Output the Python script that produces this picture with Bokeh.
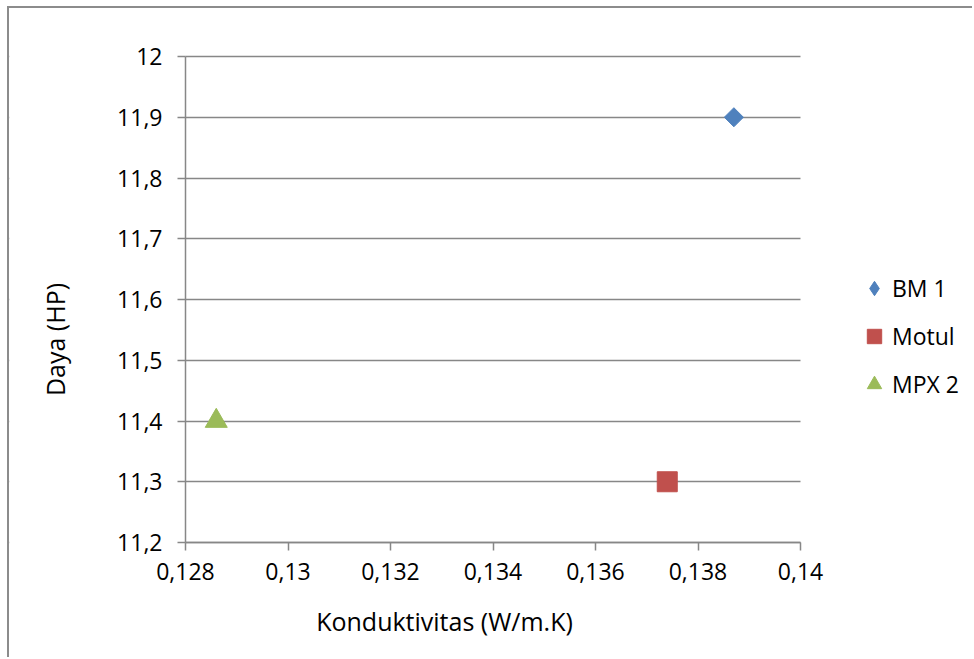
import math
from bokeh.plotting import figure
from bokeh.models import (FixedTicker, CustomJSTickFormatter, Legend, LegendItem,
                          BoxAnnotation, Label, Range1d)
from bokeh.embed import file_html
from bokeh.resources import INLINE

# ---- data ----
series_names = ["BM 1", "Motul", "MPX 2"]
conductivity = [0.1387, 0.1374, 0.1286]
power_hp = [11.9, 11.3, 11.4]
colors = ["#4F81BD", "#C0504D", "#9BBB59"]
x_ticks = [0.128, 0.130, 0.132, 0.134, 0.136, 0.138, 0.140]
y_ticks = [11.2, 11.3, 11.4, 11.5, 11.6, 11.7, 11.8, 11.9, 12.0]
x_title = "Konduktivitas (W/m.K)"
y_title = "Daya (HP)"

FONT = "Open Sans"
GRAY = "#878787"

# ---- layout (page pixels) ----
CANVAS_X0, CANVAS_Y0 = 9, 8          # canvas offset (after css margin + border)
CW, CH = 974 - CANVAS_X0, 659 - CANVAS_Y0
PX_L, PX_R, PX_T, PX_B = 185, 800, 56, 542   # plot area in page pixels

kx = (x_ticks[-1] - x_ticks[0]) / (PX_R - PX_L)
ky = (y_ticks[-1] - y_ticks[0]) / (PX_B - PX_T)


def px2x(px):
    return x_ticks[0] + (px - PX_L) * kx


def px2y(py):
    return y_ticks[0] + (PX_B - py) * ky


p = figure(width=CW, height=CH, output_backend="svg", toolbar_location=None,
           title=None,
           x_range=Range1d(px2x(CANVAS_X0), px2x(974)),
           y_range=Range1d(px2y(659), px2y(CANVAS_Y0)),
           min_border=0, min_border_left=0, min_border_right=0,
           min_border_top=0, min_border_bottom=0)
p.styles = {"margin-left": "7px", "margin-top": "6px",
            "border-left": "2px solid #8c8c8c", "border-top": "2px solid #8c8c8c"}
p.outline_line_color = None
p.background_fill_color = "white"
p.border_fill_color = "white"

# axes drawn inside the frame at the data edges
p.xaxis.fixed_location = y_ticks[0]
p.yaxis.fixed_location = x_ticks[0]
p.xaxis.bounds = (x_ticks[0], x_ticks[-1])
p.yaxis.bounds = (y_ticks[0], y_ticks[-1])
p.xaxis.ticker = FixedTicker(ticks=x_ticks)
p.yaxis.ticker = FixedTicker(ticks=y_ticks)
p.xaxis.formatter = CustomJSTickFormatter(
    code="return (Math.round(tick*1000)/1000).toString().replace('.', ',');")
p.yaxis.formatter = CustomJSTickFormatter(
    code="return (Math.round(tick*10)/10).toString().replace('.', ',');")
for ax in (p.xaxis, p.yaxis):
    ax.axis_line_color = GRAY
    ax.axis_line_width = 1.5
    ax.major_tick_line_color = GRAY
    ax.major_tick_line_width = 1.5
    ax.major_tick_out = 8
    ax.major_tick_in = 0
    ax.minor_tick_line_color = None
    ax.major_label_text_font = FONT
    ax.major_label_text_font_size = "23px"
    ax.major_label_text_color = "black"
p.xaxis.major_label_standoff = 12
p.yaxis.major_label_standoff = 15

p.xgrid.visible = False
p.ygrid.ticker = FixedTicker(ticks=y_ticks)
p.ygrid.grid_line_color = GRAY
p.ygrid.grid_line_width = 1.5
# keep the gridlines within the plot area
p.add_layout(BoxAnnotation(right=x_ticks[0], fill_color="white", fill_alpha=1,
                           line_alpha=0, level="underlay"))
p.add_layout(BoxAnnotation(left=x_ticks[-1], fill_color="white", fill_alpha=1,
                           line_alpha=0, level="underlay"))

# points
r_bm = p.scatter(x=[conductivity[0]], y=[power_hp[0]], marker="square",
                 angle=math.pi / 4, size=13.5, color=colors[0])
r_mo = p.scatter(x=[conductivity[1]], y=[power_hp[1]], marker="square",
                 size=20, color=colors[1])
r_mp = p.scatter(x=[conductivity[2]], y=[power_hp[2]], marker="triangle",
                 size=22, color=colors[2])
# legend key for the diamond series (zero size in the plot itself)
r_bm_key = p.scatter(x=[conductivity[0]], y=[power_hp[0]], marker="diamond",
                     size=0, color=colors[0])

legend = Legend(items=[LegendItem(label=series_names[0], renderers=[r_bm_key]),
                       LegendItem(label=series_names[1], renderers=[r_mo]),
                       LegendItem(label=series_names[2], renderers=[r_mp])],
                location=(856 - CANVAS_X0, 659 - 404), glyph_width=36, glyph_height=40,
                label_standoff=0, spacing=8, padding=0, margin=0,
                border_line_color=None, background_fill_alpha=0,
                label_text_font=FONT, label_text_font_size="23px",
                label_text_color="black")
p.add_layout(legend)

# axis titles
p.add_layout(Label(x=px2x(444), y=px2y(620), text=x_title,
                   text_align="center", text_baseline="alphabetic",
                   text_font=FONT, text_font_size="25px", text_color="black"))
p.add_layout(Label(x=px2x(54), y=px2y(339), text=y_title, angle=math.pi / 2,
                   text_align="center", text_baseline="alphabetic",
                   text_font=FONT, text_font_size="25px", text_color="black"))

open("out.html", "w").write(file_html(p, INLINE))
